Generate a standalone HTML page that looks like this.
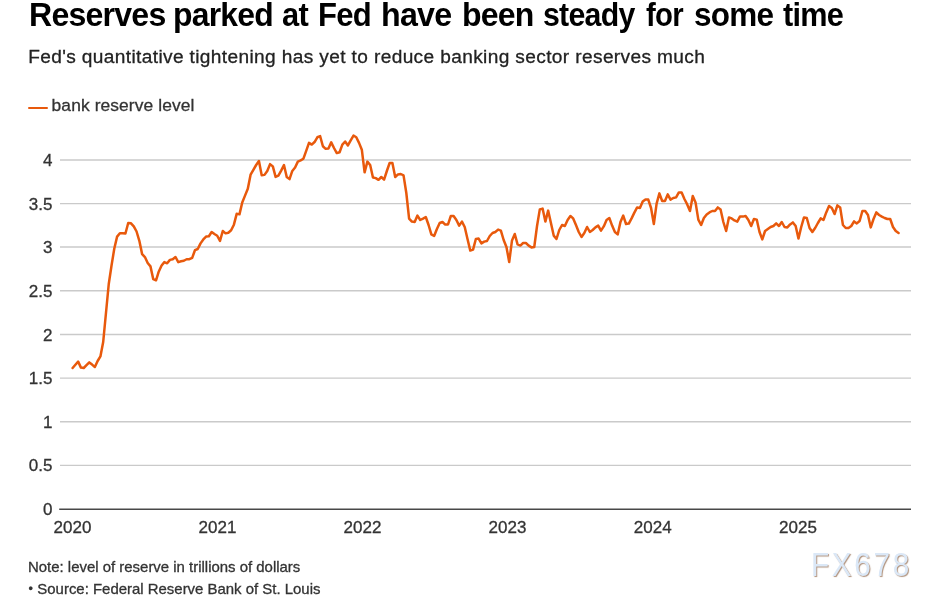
<!DOCTYPE html>
<html><head><meta charset="utf-8"><title>Reserves parked at Fed</title>
<style>
html,body{margin:0;padding:0;background:#fff;}
body{width:940px;height:600px;position:relative;overflow:hidden;font-family:"Liberation Sans",Arial,Helvetica,sans-serif;color:#333;}
.t{position:absolute;white-space:nowrap;line-height:1;margin:0;}
#title{left:0;top:-2.3px;width:940px;height:36px;font-size:33.5px;letter-spacing:-0.8px;font-weight:bold;color:#000;}
#title span{position:absolute;top:0;transform-origin:0 0;white-space:nowrap;}
#sub,#leg,#note,#src{-webkit-text-stroke:0.3px currentColor;}
#sub{left:28.2px;top:46.7px;font-size:19.1px;letter-spacing:0.37px;color:#222;}
#leg{left:51.6px;top:96.7px;font-size:17.4px;letter-spacing:0.1px;color:#333;}
#sw{position:absolute;left:28px;top:107px;width:19.5px;height:2.4px;border-radius:1.2px;background:#e8590c;}
#note{left:28px;top:559.5px;font-size:14.94px;color:#333;}
#src{left:28px;top:582.3px;font-size:14.94px;color:#333;}
.bu{display:inline-block;font-size:12.5px;width:4.6px;margin-left:0.6px;vertical-align:0.9px;}
#wm{left:811px;top:547.5px;font-size:33px;letter-spacing:3px;transform:scaleX(0.9);transform-origin:0 0;color:#dbe8f7;text-shadow:1px 1px 1px rgba(150,110,80,.75);}
svg{position:absolute;left:0;top:0;}
svg text{font-family:"Liberation Sans",Arial,Helvetica,sans-serif;font-size:17px;fill:#333;stroke:#333;stroke-width:0.3px;}
</style></head><body>
<h1 class="t" id="title"><span style="left:28.59px;transform:scaleX(0.9571)">Reserves</span> <span style="left:173.1px;transform:scaleX(0.951)">parked</span> <span style="left:282.08px;transform:scaleX(0.9196)">at</span> <span style="left:318.15px;transform:scaleX(0.9259)">Fed</span> <span style="left:381.08px;transform:scaleX(0.9613)">have</span> <span style="left:461.84px;transform:scaleX(0.9549)">been</span> <span style="left:542.85px;transform:scaleX(0.9035)">steady</span> <span style="left:646.12px;transform:scaleX(0.875)">for</span> <span style="left:693.56px;transform:scaleX(0.9398)">some</span> <span style="left:782.5px;transform:scaleX(0.9154)">time</span></h1>
<p class="t" id="sub">Fed's quantitative tightening has yet to reduce banking sector reserves much</p>
<div id="sw"></div><div class="t" id="leg">bank reserve level</div>
<svg width="940" height="600" viewBox="0 0 940 600">
<line x1="60" x2="911" y1="160" y2="160" stroke="#cacaca" stroke-width="1.4"/><line x1="60" x2="911" y1="203.6" y2="203.6" stroke="#cacaca" stroke-width="1.4"/><line x1="60" x2="911" y1="247.0" y2="247.0" stroke="#cacaca" stroke-width="1.4"/><line x1="60" x2="911" y1="290.7" y2="290.7" stroke="#cacaca" stroke-width="1.4"/><line x1="60" x2="911" y1="334.5" y2="334.5" stroke="#cacaca" stroke-width="1.4"/><line x1="60" x2="911" y1="378.1" y2="378.1" stroke="#cacaca" stroke-width="1.4"/><line x1="60" x2="911" y1="421.7" y2="421.7" stroke="#cacaca" stroke-width="1.4"/><line x1="60" x2="911" y1="465.4" y2="465.4" stroke="#cacaca" stroke-width="1.4"/>
<line x1="59.2" x2="911" y1="509.25" y2="509.25" stroke="#484848" stroke-width="1.6"/>
<text x="52.4" y="166.0" text-anchor="end">4</text><text x="52.4" y="209.6" text-anchor="end">3.5</text><text x="52.4" y="253.0" text-anchor="end">3</text><text x="52.4" y="296.7" text-anchor="end">2.5</text><text x="52.4" y="340.5" text-anchor="end">2</text><text x="52.4" y="384.1" text-anchor="end">1.5</text><text x="52.4" y="427.7" text-anchor="end">1</text><text x="52.4" y="471.4" text-anchor="end">0.5</text><text x="52.4" y="515.0" text-anchor="end">0</text>
<text x="72.5" y="533.3" text-anchor="middle">2020</text><text x="217.5" y="533.3" text-anchor="middle">2021</text><text x="362.5" y="533.3" text-anchor="middle">2022</text><text x="507.5" y="533.3" text-anchor="middle">2023</text><text x="652.75" y="533.3" text-anchor="middle">2024</text><text x="798" y="533.3" text-anchor="middle">2025</text>
<polyline fill="none" stroke="#e8590c" stroke-width="2.5" stroke-linejoin="round" stroke-linecap="round" points="72.6,368.0 75.38,364.8 78.16,361.6 80.94,367.6 83.72,368.0 86.5,365.2 89.29,362.4 92.07,364.6 94.85,367.0 97.63,361.0 100.41,356.4 103.19,342.0 105.97,313.0 108.75,284.0 111.53,265.53 114.31,248.51 117.1,236.6 119.88,233.19 122.66,233.19 125.44,233.53 128.22,222.98 131.0,223.32 133.78,226.38 136.56,231.49 139.34,240.85 142.12,254.13 144.91,257.02 147.69,262.98 150.47,266.38 153.25,279.15 156.03,280.34 158.81,271.49 161.59,265.53 164.37,262.13 167.15,263.32 169.94,259.91 172.72,259.23 175.5,257.02 178.28,262.13 181.06,261.28 183.84,260.77 186.62,259.23 189.4,259.23 192.18,257.87 194.96,250.21 197.75,249.02 200.53,243.4 203.31,239.49 206.09,236.6 208.87,236.26 211.65,232.0 214.43,234.04 217.21,235.74 219.99,240.85 222.77,230.98 225.56,233.36 228.34,232.68 231.12,230.3 233.9,224.68 236.68,213.85 239.46,214.36 242.24,202.45 245.02,195.64 247.8,188.83 250.58,174.7 253.37,169.77 256.15,165.0 258.93,161.09 261.71,175.21 264.49,174.87 267.27,170.96 270.05,164.15 272.83,166.36 275.61,176.91 278.39,175.72 281.18,170.62 283.96,165.0 286.74,176.91 289.52,179.13 292.3,170.96 295.08,167.55 297.86,161.6 300.64,160.4 303.42,158.7 306.2,150.87 308.99,142.87 311.77,144.57 314.55,142.02 317.33,137.26 320.11,136.06 322.89,146.28 325.67,148.83 328.45,148.49 331.23,142.36 334.01,147.98 336.79,153.09 339.58,152.23 342.36,144.57 345.14,141.51 347.92,145.43 350.7,140.32 353.48,135.55 356.26,137.26 359.04,142.87 361.82,149.68 364.61,172.32 367.39,161.6 370.17,165.0 372.95,177.43 375.73,178.11 378.51,179.81 381.29,177.0 384.07,179.6 386.85,171.0 389.63,163.0 392.41,163.0 395.2,177.0 397.98,174.4 400.76,174.0 403.54,175.4 406.32,193.0 409.1,218.6 411.88,221.6 414.66,222.0 417.44,215.6 420.23,220.0 423.01,218.6 425.79,217.0 428.57,225.0 431.35,234.4 434.13,236.0 436.91,229.0 439.69,223.0 442.47,222.0 445.25,224.6 448.03,224.4 450.82,216.0 453.6,216.0 456.38,220.0 459.16,225.6 461.94,221.6 464.72,227.0 467.5,239.0 470.28,250.6 473.06,249.6 475.85,239.0 478.63,238.6 481.41,243.4 484.19,241.6 486.97,241.0 489.75,236.0 492.53,233.0 495.31,232.0 498.09,229.6 500.87,230.6 503.65,240.0 506.44,247.0 509.22,262.0 512.0,240.4 514.78,234.0 517.56,244.4 520.34,245.6 523.12,243.0 525.9,243.0 528.68,245.6 531.47,247.4 534.25,247.0 537.03,226.0 539.81,209.4 542.59,208.6 545.37,221.6 548.15,210.6 550.93,223.0 553.71,235.6 556.49,239.0 559.27,230.0 562.06,225.0 564.84,226.0 567.62,220.0 570.4,216.0 573.18,218.4 575.96,225.0 578.74,232.0 581.52,237.0 584.3,233.0 587.09,227.0 589.87,232.0 592.65,230.0 595.43,227.4 598.21,225.6 600.99,230.6 603.77,226.4 606.55,220.0 609.33,218.0 612.11,225.6 614.9,232.0 617.68,234.4 620.46,222.0 623.24,215.6 626.02,224.0 628.8,223.6 631.58,218.4 634.36,212.6 637.14,207.4 639.92,208.0 642.71,201.6 645.49,199.4 648.27,199.6 651.05,208.0 653.83,224.0 656.61,203.6 659.39,193.4 662.17,201.0 664.95,201.0 667.73,194.4 670.52,199.6 673.3,198.0 676.08,197.4 678.86,192.4 681.64,192.6 684.42,199.0 687.2,204.4 689.98,211.0 692.76,196.0 695.54,202.4 698.33,219.6 701.11,225.0 703.89,218.0 706.67,214.4 709.45,212.4 712.23,211.0 715.01,211.0 717.79,207.4 720.57,209.4 723.35,222.0 726.14,231.0 728.92,217.4 731.7,218.4 734.48,220.4 737.26,221.6 740.04,216.4 742.82,216.6 745.6,216.0 748.38,220.0 751.16,226.0 753.95,219.0 756.73,219.6 759.51,232.0 762.29,239.4 765.07,231.0 767.85,229.0 770.63,227.0 773.41,226.0 776.19,223.4 778.97,226.0 781.76,222.0 784.54,227.0 787.32,227.4 790.1,224.4 792.88,222.4 795.66,226.0 798.44,238.6 801.22,227.0 804.0,217.4 806.78,218.0 809.57,228.0 812.35,232.0 815.13,228.0 817.91,223.0 820.69,218.4 823.47,220.0 826.25,212.4 829.03,206.0 831.81,208.0 834.59,214.0 837.38,205.4 840.16,207.4 842.94,225.0 845.72,228.0 848.5,228.0 851.28,226.0 854.06,221.4 856.84,223.4 859.62,221.0 862.4,211.0 865.19,211.0 867.97,215.0 870.75,227.4 873.53,219.0 876.31,212.4 879.09,215.0 881.87,216.6 884.65,218.0 887.43,219.0 890.21,219.0 893.0,227.0 895.78,231.0 898.56,233.0"/>
</svg>
<div class="t" id="note">Note: level of reserve in trillions of dollars</div>
<div class="t" id="src"><span class="bu">•</span> Source: Federal Reserve Bank of St. Louis</div>
<div class="t" id="wm">FX678</div>
</body></html>
